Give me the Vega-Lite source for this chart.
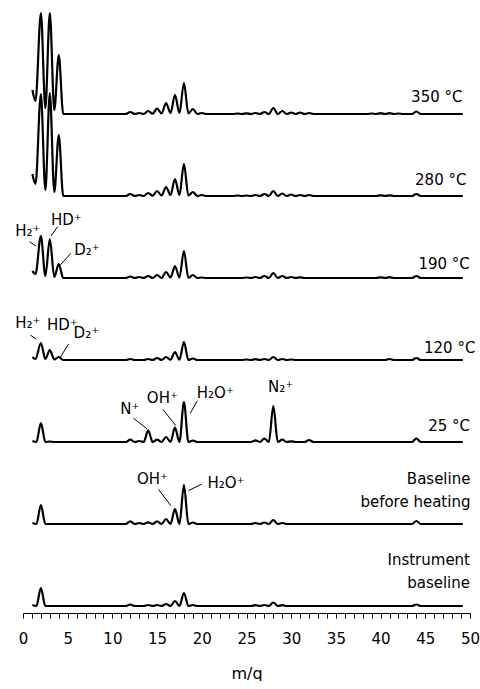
{
"$schema": "https://vega.github.io/schema/vega-lite/v6.json",
"padding": {"left": 15, "top": 8, "right": 0, "bottom": 0},
"background": "white",
"bounds": "flush",
"config": {"view": {"stroke": null}, "font": "DejaVu Sans", "text": {"font": "DejaVu Sans"}},
"spacing": 0,
"data": {"values": [
{"k":"s","t":"350","m":1.05,"v":24},{"k":"s","t":"350","m":1.4,"v":13},{"k":"s","t":"350","m":2,"v":101},{"k":"s","t":"350","m":2.5,"v":6},{"k":"s","t":"350","m":3,"v":101},{"k":"s","t":"350","m":3.5,"v":4},{"k":"s","t":"350","m":4,"v":59},{"k":"s","t":"350","m":4.5,"v":0},{"k":"s","t":"350","m":11.5,"v":0},{"k":"s","t":"350","m":12,"v":2},{"k":"s","t":"350","m":12.5,"v":0},{"k":"s","t":"350","m":13,"v":1},{"k":"s","t":"350","m":13.5,"v":0},{"k":"s","t":"350","m":14,"v":3},{"k":"s","t":"350","m":14.5,"v":0.3},{"k":"s","t":"350","m":15,"v":5.5},{"k":"s","t":"350","m":15.5,"v":0.5},{"k":"s","t":"350","m":16,"v":11},{"k":"s","t":"350","m":16.5,"v":1},{"k":"s","t":"350","m":17,"v":19},{"k":"s","t":"350","m":17.5,"v":1},{"k":"s","t":"350","m":18,"v":31},{"k":"s","t":"350","m":18.5,"v":0.5},{"k":"s","t":"350","m":19,"v":5},{"k":"s","t":"350","m":19.5,"v":0},{"k":"s","t":"350","m":20,"v":1},{"k":"s","t":"350","m":20.5,"v":0},{"k":"s","t":"350","m":23.5,"v":0},{"k":"s","t":"350","m":24,"v":0.5},{"k":"s","t":"350","m":24.5,"v":0},{"k":"s","t":"350","m":25,"v":0.7},{"k":"s","t":"350","m":25.5,"v":0},{"k":"s","t":"350","m":26,"v":1},{"k":"s","t":"350","m":26.5,"v":0},{"k":"s","t":"350","m":27,"v":2},{"k":"s","t":"350","m":27.5,"v":0},{"k":"s","t":"350","m":28,"v":6},{"k":"s","t":"350","m":28.5,"v":0},{"k":"s","t":"350","m":29,"v":3},{"k":"s","t":"350","m":29.5,"v":0},{"k":"s","t":"350","m":30,"v":1.5},{"k":"s","t":"350","m":30.5,"v":0},{"k":"s","t":"350","m":31,"v":1.5},{"k":"s","t":"350","m":31.5,"v":0},{"k":"s","t":"350","m":32,"v":1},{"k":"s","t":"350","m":32.5,"v":0},{"k":"s","t":"350","m":38.5,"v":0},{"k":"s","t":"350","m":39,"v":0.5},{"k":"s","t":"350","m":39.5,"v":0},{"k":"s","t":"350","m":40,"v":0.8},{"k":"s","t":"350","m":40.5,"v":0},{"k":"s","t":"350","m":41,"v":0.8},{"k":"s","t":"350","m":41.5,"v":0},{"k":"s","t":"350","m":42,"v":0.5},{"k":"s","t":"350","m":42.5,"v":0},{"k":"s","t":"350","m":43.5,"v":0},{"k":"s","t":"350","m":44,"v":2.5},{"k":"s","t":"350","m":44.5,"v":0},{"k":"s","t":"350","m":49.2,"v":0},
{"k":"s","t":"280","m":1.05,"v":22},{"k":"s","t":"280","m":1.4,"v":12},{"k":"s","t":"280","m":2,"v":102},{"k":"s","t":"280","m":2.5,"v":6},{"k":"s","t":"280","m":3,"v":103},{"k":"s","t":"280","m":3.5,"v":4},{"k":"s","t":"280","m":4,"v":61},{"k":"s","t":"280","m":4.5,"v":0},{"k":"s","t":"280","m":11.5,"v":0},{"k":"s","t":"280","m":12,"v":2},{"k":"s","t":"280","m":12.5,"v":0},{"k":"s","t":"280","m":13,"v":1},{"k":"s","t":"280","m":13.5,"v":0},{"k":"s","t":"280","m":14,"v":3},{"k":"s","t":"280","m":14.5,"v":0.3},{"k":"s","t":"280","m":15,"v":5},{"k":"s","t":"280","m":15.5,"v":0.5},{"k":"s","t":"280","m":16,"v":9},{"k":"s","t":"280","m":16.5,"v":1},{"k":"s","t":"280","m":17,"v":17},{"k":"s","t":"280","m":17.5,"v":1},{"k":"s","t":"280","m":18,"v":32},{"k":"s","t":"280","m":18.5,"v":0.5},{"k":"s","t":"280","m":19,"v":4},{"k":"s","t":"280","m":19.5,"v":0},{"k":"s","t":"280","m":20,"v":1},{"k":"s","t":"280","m":20.5,"v":0},{"k":"s","t":"280","m":23.5,"v":0},{"k":"s","t":"280","m":24,"v":0.5},{"k":"s","t":"280","m":24.5,"v":0},{"k":"s","t":"280","m":25,"v":0.5},{"k":"s","t":"280","m":25.5,"v":0},{"k":"s","t":"280","m":26,"v":1},{"k":"s","t":"280","m":26.5,"v":0},{"k":"s","t":"280","m":27,"v":2},{"k":"s","t":"280","m":27.5,"v":0},{"k":"s","t":"280","m":28,"v":5},{"k":"s","t":"280","m":28.5,"v":0},{"k":"s","t":"280","m":29,"v":2.5},{"k":"s","t":"280","m":29.5,"v":0},{"k":"s","t":"280","m":30,"v":1.5},{"k":"s","t":"280","m":30.5,"v":0},{"k":"s","t":"280","m":31,"v":1},{"k":"s","t":"280","m":31.5,"v":0},{"k":"s","t":"280","m":32,"v":1},{"k":"s","t":"280","m":32.5,"v":0},{"k":"s","t":"280","m":39.5,"v":0},{"k":"s","t":"280","m":40,"v":0.7},{"k":"s","t":"280","m":40.5,"v":0},{"k":"s","t":"280","m":41,"v":0.7},{"k":"s","t":"280","m":41.5,"v":0},{"k":"s","t":"280","m":43.5,"v":0},{"k":"s","t":"280","m":44,"v":2},{"k":"s","t":"280","m":44.5,"v":0},{"k":"s","t":"280","m":49.2,"v":0},
{"k":"s","t":"190","m":1.05,"v":7},{"k":"s","t":"190","m":1.4,"v":4},{"k":"s","t":"190","m":2,"v":42},{"k":"s","t":"190","m":2.5,"v":2},{"k":"s","t":"190","m":3,"v":39},{"k":"s","t":"190","m":3.5,"v":1},{"k":"s","t":"190","m":4,"v":14},{"k":"s","t":"190","m":4.5,"v":0},{"k":"s","t":"190","m":11.5,"v":0},{"k":"s","t":"190","m":12,"v":1.5},{"k":"s","t":"190","m":12.5,"v":0},{"k":"s","t":"190","m":13,"v":1},{"k":"s","t":"190","m":13.5,"v":0},{"k":"s","t":"190","m":14,"v":2},{"k":"s","t":"190","m":14.5,"v":0},{"k":"s","t":"190","m":15,"v":3},{"k":"s","t":"190","m":15.5,"v":0},{"k":"s","t":"190","m":16,"v":6},{"k":"s","t":"190","m":16.5,"v":0.5},{"k":"s","t":"190","m":17,"v":12},{"k":"s","t":"190","m":17.5,"v":0.5},{"k":"s","t":"190","m":18,"v":27},{"k":"s","t":"190","m":18.5,"v":0},{"k":"s","t":"190","m":19,"v":3},{"k":"s","t":"190","m":19.5,"v":0},{"k":"s","t":"190","m":20,"v":0.5},{"k":"s","t":"190","m":20.5,"v":0},{"k":"s","t":"190","m":24.5,"v":0},{"k":"s","t":"190","m":25,"v":0.5},{"k":"s","t":"190","m":25.5,"v":0},{"k":"s","t":"190","m":26,"v":1},{"k":"s","t":"190","m":26.5,"v":0},{"k":"s","t":"190","m":27,"v":2},{"k":"s","t":"190","m":27.5,"v":0},{"k":"s","t":"190","m":28,"v":5},{"k":"s","t":"190","m":28.5,"v":0},{"k":"s","t":"190","m":29,"v":2},{"k":"s","t":"190","m":29.5,"v":0},{"k":"s","t":"190","m":30,"v":1},{"k":"s","t":"190","m":30.5,"v":0},{"k":"s","t":"190","m":31,"v":0.7},{"k":"s","t":"190","m":31.5,"v":0},{"k":"s","t":"190","m":39.5,"v":0},{"k":"s","t":"190","m":40,"v":0.6},{"k":"s","t":"190","m":40.5,"v":0},{"k":"s","t":"190","m":41,"v":0.8},{"k":"s","t":"190","m":41.5,"v":0},{"k":"s","t":"190","m":43.5,"v":0},{"k":"s","t":"190","m":44,"v":2},{"k":"s","t":"190","m":44.5,"v":0},{"k":"s","t":"190","m":49.2,"v":0},
{"k":"s","t":"120","m":1.05,"v":3},{"k":"s","t":"120","m":1.4,"v":1},{"k":"s","t":"120","m":2,"v":17},{"k":"s","t":"120","m":2.5,"v":1},{"k":"s","t":"120","m":3,"v":10},{"k":"s","t":"120","m":3.5,"v":0.5},{"k":"s","t":"120","m":4,"v":3},{"k":"s","t":"120","m":4.5,"v":0},{"k":"s","t":"120","m":11.5,"v":0},{"k":"s","t":"120","m":12,"v":1},{"k":"s","t":"120","m":12.5,"v":0},{"k":"s","t":"120","m":13.5,"v":0},{"k":"s","t":"120","m":14,"v":1},{"k":"s","t":"120","m":14.5,"v":0},{"k":"s","t":"120","m":15,"v":2},{"k":"s","t":"120","m":15.5,"v":0},{"k":"s","t":"120","m":16,"v":3},{"k":"s","t":"120","m":16.5,"v":0.3},{"k":"s","t":"120","m":17,"v":8},{"k":"s","t":"120","m":17.5,"v":0.3},{"k":"s","t":"120","m":18,"v":18},{"k":"s","t":"120","m":18.5,"v":0},{"k":"s","t":"120","m":19,"v":1.5},{"k":"s","t":"120","m":19.5,"v":0},{"k":"s","t":"120","m":24.5,"v":0},{"k":"s","t":"120","m":25,"v":0.5},{"k":"s","t":"120","m":25.5,"v":0},{"k":"s","t":"120","m":26,"v":0.8},{"k":"s","t":"120","m":26.5,"v":0},{"k":"s","t":"120","m":27,"v":1},{"k":"s","t":"120","m":27.5,"v":0},{"k":"s","t":"120","m":28,"v":3},{"k":"s","t":"120","m":28.5,"v":0},{"k":"s","t":"120","m":29,"v":1},{"k":"s","t":"120","m":29.5,"v":0},{"k":"s","t":"120","m":30,"v":0.5},{"k":"s","t":"120","m":30.5,"v":0},{"k":"s","t":"120","m":40.5,"v":0},{"k":"s","t":"120","m":41,"v":1},{"k":"s","t":"120","m":41.5,"v":0},{"k":"s","t":"120","m":43.5,"v":0},{"k":"s","t":"120","m":44,"v":2},{"k":"s","t":"120","m":44.5,"v":0},{"k":"s","t":"120","m":49.2,"v":0},
{"k":"s","t":"25","m":1.05,"v":1},{"k":"s","t":"25","m":1.5,"v":0},{"k":"s","t":"25","m":2,"v":19},{"k":"s","t":"25","m":2.5,"v":0},{"k":"s","t":"25","m":3,"v":0.5},{"k":"s","t":"25","m":3.5,"v":0},{"k":"s","t":"25","m":11.5,"v":0},{"k":"s","t":"25","m":12,"v":2.3},{"k":"s","t":"25","m":12.5,"v":0},{"k":"s","t":"25","m":13,"v":1},{"k":"s","t":"25","m":13.5,"v":0},{"k":"s","t":"25","m":14,"v":11.7},{"k":"s","t":"25","m":14.5,"v":0},{"k":"s","t":"25","m":15,"v":2.3},{"k":"s","t":"25","m":15.5,"v":0},{"k":"s","t":"25","m":16,"v":5},{"k":"s","t":"25","m":16.5,"v":0},{"k":"s","t":"25","m":17,"v":14.3},{"k":"s","t":"25","m":17.5,"v":0},{"k":"s","t":"25","m":18,"v":40},{"k":"s","t":"25","m":18.5,"v":0},{"k":"s","t":"25","m":19,"v":1.5},{"k":"s","t":"25","m":19.5,"v":0},{"k":"s","t":"25","m":25.5,"v":0},{"k":"s","t":"25","m":26,"v":1.7},{"k":"s","t":"25","m":26.5,"v":0},{"k":"s","t":"25","m":27,"v":3.3},{"k":"s","t":"25","m":27.5,"v":0},{"k":"s","t":"25","m":28,"v":36},{"k":"s","t":"25","m":28.5,"v":0},{"k":"s","t":"25","m":29,"v":2.3},{"k":"s","t":"25","m":29.5,"v":0},{"k":"s","t":"25","m":30,"v":0.7},{"k":"s","t":"25","m":30.5,"v":0},{"k":"s","t":"25","m":31.5,"v":0},{"k":"s","t":"25","m":32,"v":2},{"k":"s","t":"25","m":32.5,"v":0},{"k":"s","t":"25","m":43.5,"v":0},{"k":"s","t":"25","m":44,"v":3.5},{"k":"s","t":"25","m":44.5,"v":0},{"k":"s","t":"25","m":49.2,"v":0},
{"k":"s","t":"before","m":1.05,"v":1},{"k":"s","t":"before","m":1.5,"v":0},{"k":"s","t":"before","m":2,"v":19},{"k":"s","t":"before","m":2.5,"v":0},{"k":"s","t":"before","m":11.5,"v":0},{"k":"s","t":"before","m":12,"v":2.7},{"k":"s","t":"before","m":12.5,"v":0},{"k":"s","t":"before","m":13,"v":1},{"k":"s","t":"before","m":13.5,"v":0},{"k":"s","t":"before","m":14,"v":1.7},{"k":"s","t":"before","m":14.5,"v":0},{"k":"s","t":"before","m":15,"v":2.7},{"k":"s","t":"before","m":15.5,"v":0},{"k":"s","t":"before","m":16,"v":5},{"k":"s","t":"before","m":16.5,"v":0},{"k":"s","t":"before","m":17,"v":15},{"k":"s","t":"before","m":17.5,"v":0},{"k":"s","t":"before","m":18,"v":39},{"k":"s","t":"before","m":18.5,"v":0},{"k":"s","t":"before","m":19,"v":1.5},{"k":"s","t":"before","m":19.5,"v":0},{"k":"s","t":"before","m":25.5,"v":0},{"k":"s","t":"before","m":26,"v":1},{"k":"s","t":"before","m":26.5,"v":0},{"k":"s","t":"before","m":27,"v":1.5},{"k":"s","t":"before","m":27.5,"v":0},{"k":"s","t":"before","m":28,"v":4},{"k":"s","t":"before","m":28.5,"v":0},{"k":"s","t":"before","m":29,"v":1},{"k":"s","t":"before","m":29.5,"v":0},{"k":"s","t":"before","m":43.5,"v":0},{"k":"s","t":"before","m":44,"v":3},{"k":"s","t":"before","m":44.5,"v":0},{"k":"s","t":"before","m":49.2,"v":0},
{"k":"s","t":"instr","m":1.05,"v":1},{"k":"s","t":"instr","m":1.5,"v":0},{"k":"s","t":"instr","m":2,"v":18},{"k":"s","t":"instr","m":2.5,"v":0},{"k":"s","t":"instr","m":11.5,"v":0},{"k":"s","t":"instr","m":12,"v":1.5},{"k":"s","t":"instr","m":12.5,"v":0},{"k":"s","t":"instr","m":13.5,"v":0},{"k":"s","t":"instr","m":14,"v":1},{"k":"s","t":"instr","m":14.5,"v":0},{"k":"s","t":"instr","m":15,"v":1},{"k":"s","t":"instr","m":15.5,"v":0},{"k":"s","t":"instr","m":16,"v":2},{"k":"s","t":"instr","m":16.5,"v":0},{"k":"s","t":"instr","m":17,"v":5},{"k":"s","t":"instr","m":17.5,"v":0},{"k":"s","t":"instr","m":18,"v":13},{"k":"s","t":"instr","m":18.5,"v":0},{"k":"s","t":"instr","m":19,"v":1},{"k":"s","t":"instr","m":19.5,"v":0},{"k":"s","t":"instr","m":25.5,"v":0},{"k":"s","t":"instr","m":26,"v":0.8},{"k":"s","t":"instr","m":26.5,"v":0},{"k":"s","t":"instr","m":27,"v":1},{"k":"s","t":"instr","m":27.5,"v":0},{"k":"s","t":"instr","m":28,"v":3.5},{"k":"s","t":"instr","m":28.5,"v":0},{"k":"s","t":"instr","m":29,"v":0.8},{"k":"s","t":"instr","m":29.5,"v":0},{"k":"s","t":"instr","m":43.5,"v":0},{"k":"s","t":"instr","m":44,"v":1.5},{"k":"s","t":"instr","m":44.5,"v":0},{"k":"s","t":"instr","m":49.2,"v":0},
{"k":"p","t":"190","m":-0.86,"v":42,"txt":"H₂⁺"},{"k":"p","t":"190","m":3.13,"v":53,"txt":"HD⁺"},{"k":"p","t":"190","m":5.73,"v":23,"txt":"D₂⁺"},
{"k":"r","t":"190","m":0.74,"v":36.3,"m2":1.45,"v2":32},{"k":"r","t":"190","m":3.87,"v":51.3,"m2":3.13,"v2":42},{"k":"r","t":"190","m":5.36,"v":24.7,"m2":4.17,"v2":13},
{"k":"p","t":"120","m":-0.86,"v":31.7,"txt":"H₂⁺"},{"k":"p","t":"120","m":2.68,"v":30,"txt":"HD⁺"},{"k":"p","t":"120","m":5.66,"v":21.7,"txt":"D₂⁺"},
{"k":"r","t":"120","m":0.82,"v":25,"m2":1.49,"v2":20.7},{"k":"r","t":"120","m":5.1,"v":16,"m2":4.09,"v2":1.7},
{"k":"p","t":"25","m":10.87,"v":28,"txt":"N⁺"},{"k":"p","t":"25","m":13.85,"v":39.3,"txt":"OH⁺"},{"k":"p","t":"25","m":19.44,"v":43.7,"txt":"H₂O⁺"},{"k":"p","t":"25","m":27.4,"v":50.3,"txt":"N₂⁺"},
{"k":"r","t":"25","m":12.36,"v":23.7,"m2":13.86,"v2":13.3},{"k":"r","t":"25","m":15.64,"v":32.7,"m2":17.1,"v2":16.3},{"k":"r","t":"25","m":19.5,"v":41.3,"m2":18.7,"v2":28.7},
{"k":"p","t":"before","m":12.74,"v":40,"txt":"OH⁺"},{"k":"p","t":"before","m":20.63,"v":35.7,"txt":"H₂O⁺"},
{"k":"r","t":"before","m":15.15,"v":34.7,"m2":16.54,"v2":18.3},{"k":"r","t":"before","m":20,"v":40,"m2":18.5,"v2":33.3},
{"k":"c","t":"350","m":49.16,"v":24.3,"txt":["350 °C"]},{"k":"c","t":"280","m":49.6,"v":23,"txt":["280 °C"]},{"k":"c","t":"190","m":49.98,"v":20.7,"txt":["190 °C"]},{"k":"c","t":"120","m":50.6,"v":19.3,"txt":["120 °C"]},{"k":"c","t":"25","m":50,"v":23,"txt":["25 °C"]},{"k":"c","t":"before","m":50.05,"v":52.3,"txt":["Baseline","before heating"]},{"k":"c","t":"instr","m":50,"v":53,"txt":["Instrument","baseline"]}
]},
"facet": {"row": {"field": "t", "type": "nominal", "sort": ["350","280","190","120","25","before","instr"], "header": {"title": null, "labels": false}}},
"spec": {
  "width": 447,
  "height": 82,
  "encoding": {
    "x": {"field": "m", "type": "quantitative", "scale": {"domain": [0, 50], "nice": false},
          "axis": {"values": [0,1,2,3,4,5,6,7,8,9,10,11,12,13,14,15,16,17,18,19,20,21,22,23,24,25,26,27,28,29,30,31,32,33,34,35,36,37,38,39,40,41,42,43,44,45,46,47,48,49,50],
                   "labelExpr": "datum.value % 5 === 0 ? datum.label : ''",
                   "labelOverlap": false, "labelFlush": false, "labelBound": false,
                   "grid": false, "tickSize": 5, "tickColor": "black", "domainColor": "black", "domainWidth": 1, "tickWidth": 1,
                   "labelColor": "black", "labelFontSize": 15, "labelFont": "DejaVu Sans", "labelPadding": 13,
                   "title": "m/q", "titleFontSize": 16, "titleFont": "DejaVu Sans", "titleFontWeight": "normal", "titleColor": "black", "titlePadding": 19}},
    "y": {"field": "v", "type": "quantitative", "scale": {"domain": [-7, 75], "nice": false, "zero": false}, "axis": null}
  },
  "layer": [
    {"transform": [{"filter": "datum.k === 's'"}],
     "mark": {"type": "line", "interpolate": "monotone", "color": "black", "strokeWidth": 2.2}},
    {"transform": [{"filter": "datum.k === 'r'"}],
     "mark": {"type": "rule", "color": "black", "strokeWidth": 1},
     "encoding": {"x2": {"field": "m2"}, "y2": {"field": "v2"}}},
    {"transform": [{"filter": "datum.k === 'p'"}],
     "mark": {"type": "text", "align": "left", "baseline": "alphabetic", "fontSize": 15, "color": "black"},
     "encoding": {"text": {"field": "txt"}}},
    {"transform": [{"filter": "datum.k === 'c'"}],
     "mark": {"type": "text", "align": "right", "baseline": "top", "fontSize": 15, "lineHeight": 23, "color": "black"},
     "encoding": {"text": {"field": "txt"}}}
  ]
}
}
